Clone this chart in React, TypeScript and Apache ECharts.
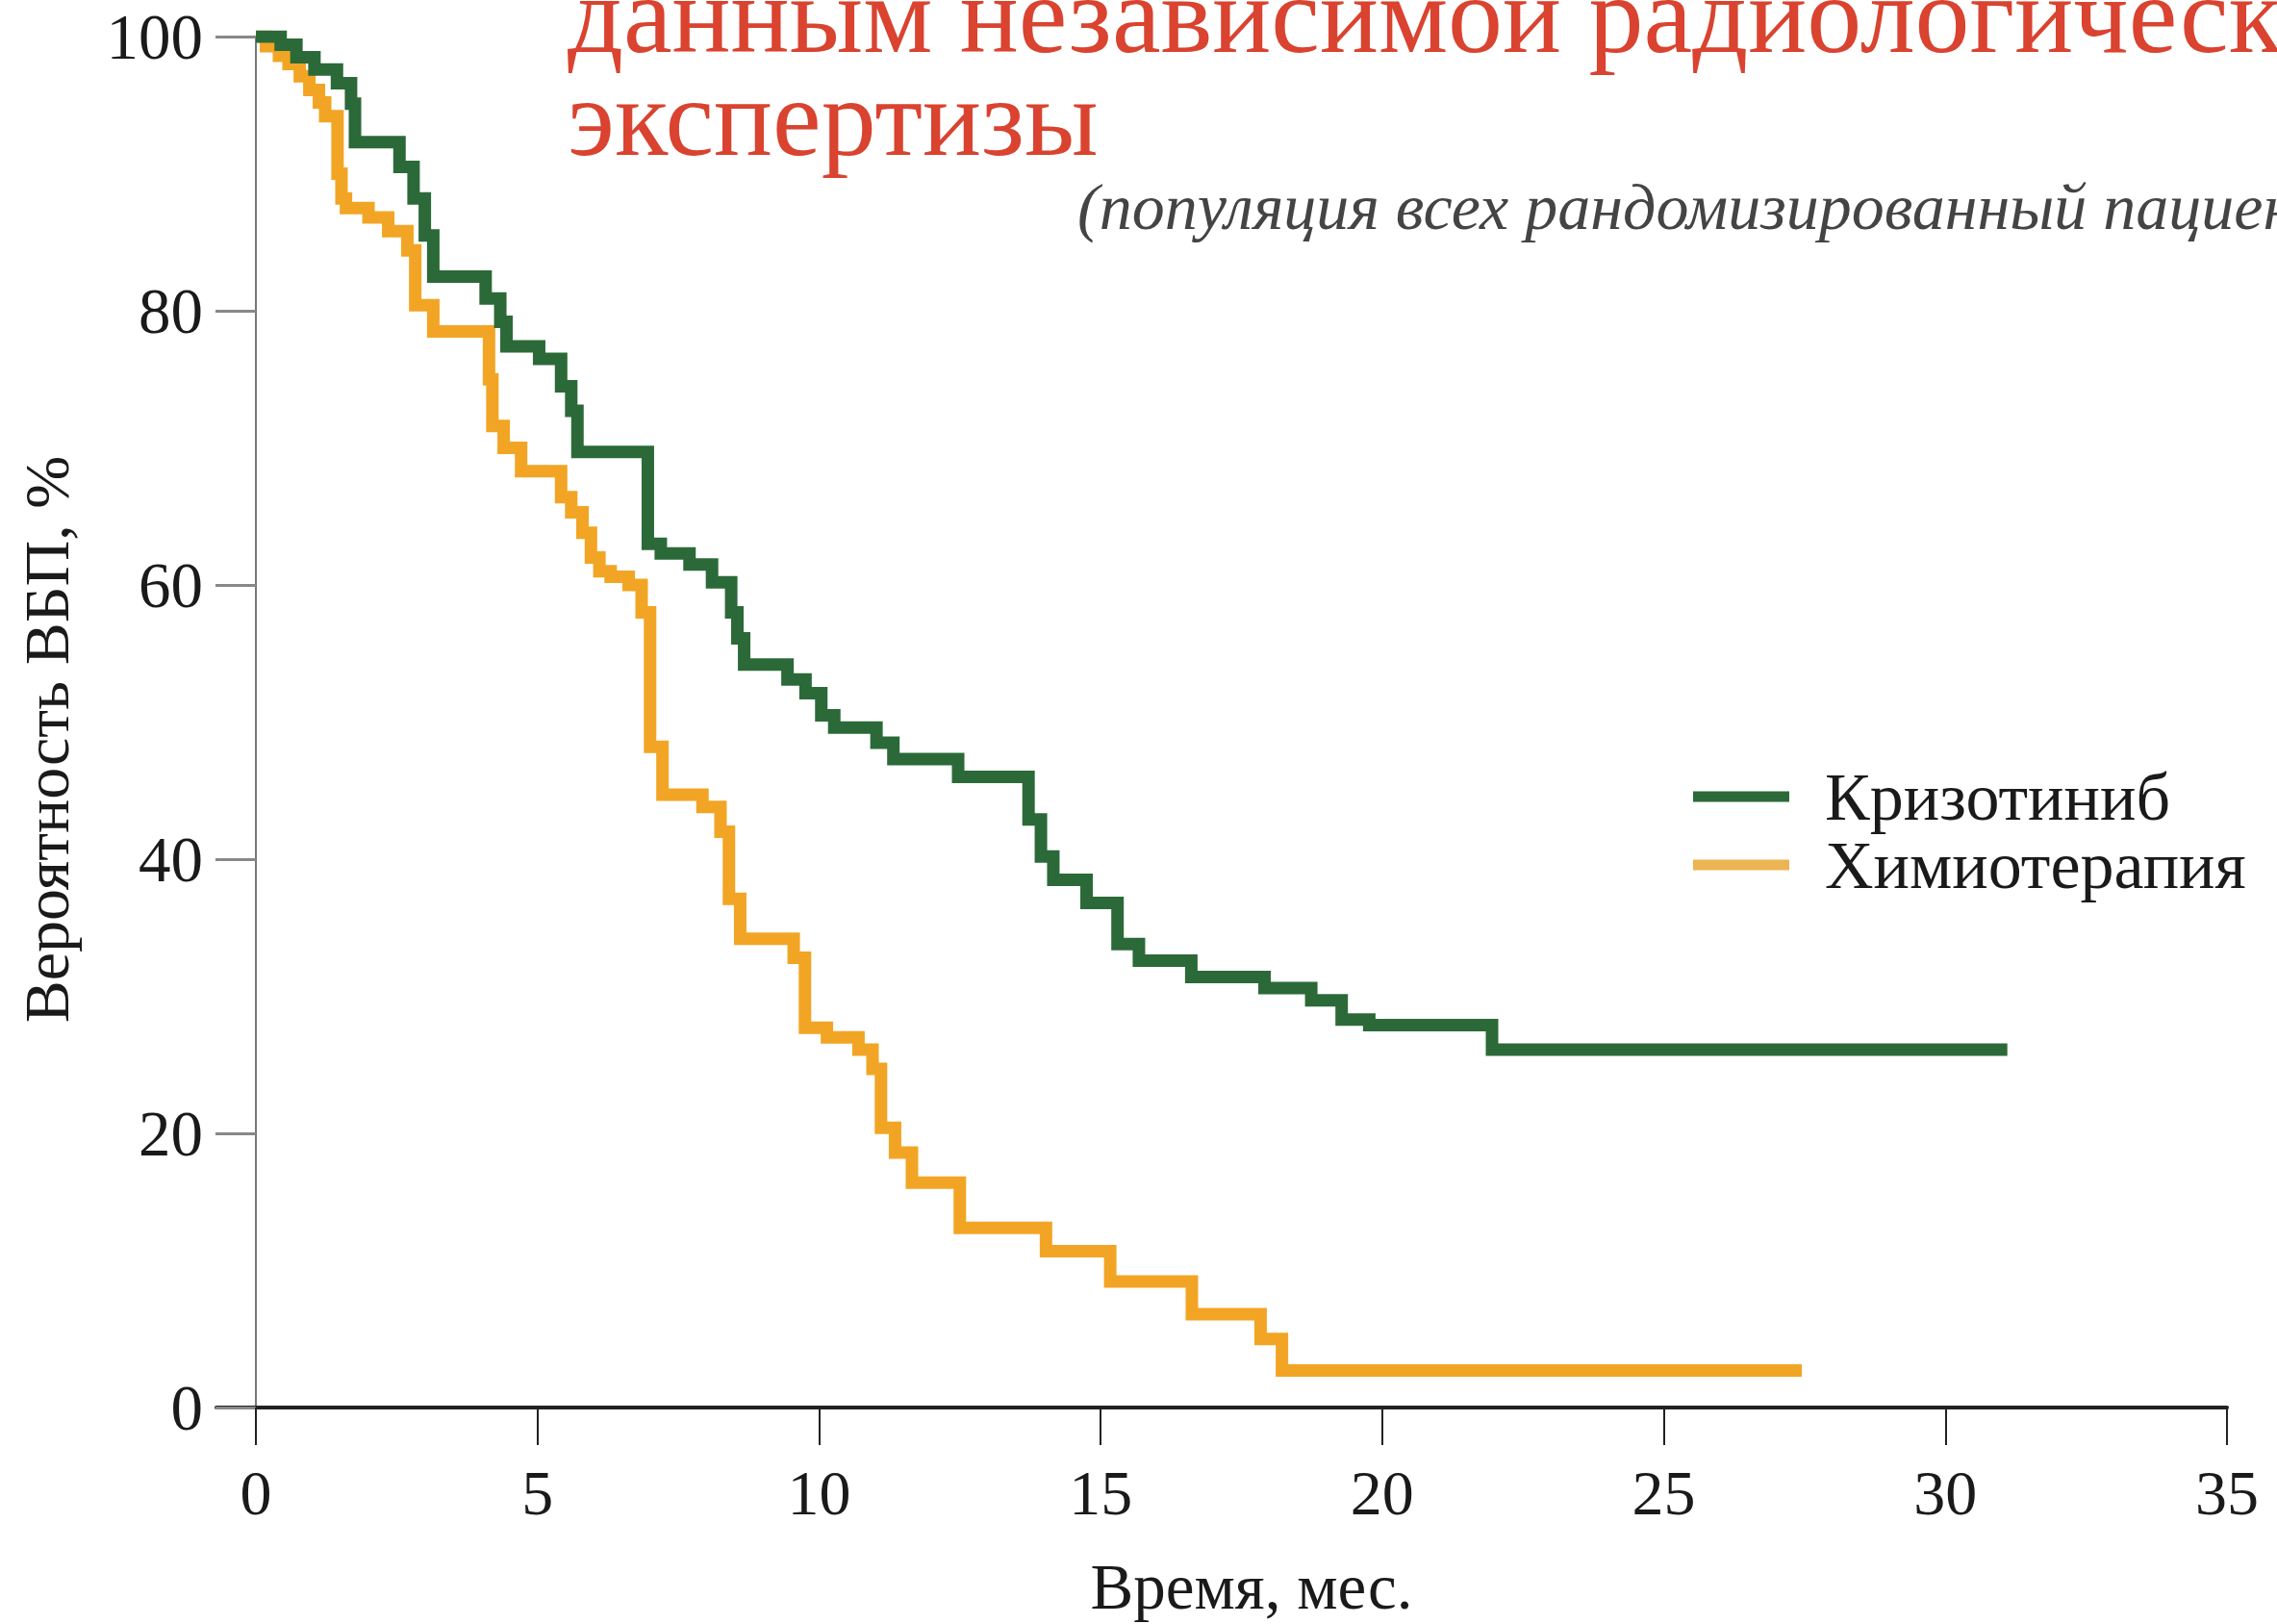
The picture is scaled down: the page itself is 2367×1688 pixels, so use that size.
import React, { useEffect, useRef } from "react";
import * as echarts from "echarts";

// Time (months) and PFS probability (%) for each arm — Kaplan–Meier steps
const crizotinibTime = [0, 0.44, 0.72, 1.04, 1.44, 1.69, 1.76, 2.55, 2.8, 3.0, 3.15, 4.08, 4.34, 4.45, 5.03, 5.42, 5.6, 5.71, 6.96, 7.19, 7.7, 8.1, 8.44, 8.55, 8.67, 9.44, 9.76, 10.04, 10.27, 11.02, 11.32, 12.47, 13.72, 13.94, 14.16, 14.75, 15.3, 15.68, 16.61, 17.91, 18.74, 19.28, 19.77, 21.95, 31.1];
const crizotinibPfs = [100, 99.4, 98.5, 97.6, 96.6, 95.1, 92.3, 90.5, 88.2, 85.5, 82.5, 80.9, 79.2, 77.4, 76.5, 74.5, 72.7, 69.7, 63.0, 62.3, 61.5, 60.2, 58.0, 56.1, 54.2, 53.1, 52.1, 50.5, 49.6, 48.5, 47.3, 46.0, 42.9, 40.2, 38.5, 36.8, 33.8, 32.6, 31.4, 30.6, 29.7, 28.3, 27.9, 26.1, 26.1];

const chemoTime = [0, 0.18, 0.41, 0.58, 0.78, 0.95, 1.12, 1.23, 1.45, 1.52, 1.6, 2.0, 2.35, 2.69, 2.83, 3.15, 4.14, 4.2, 4.4, 4.71, 5.42, 5.6, 5.8, 5.95, 6.1, 6.3, 6.62, 6.85, 7.0, 7.22, 7.93, 8.25, 8.4, 8.6, 9.55, 9.75, 10.14, 10.7, 10.95, 11.1, 11.35, 11.65, 12.5, 14.03, 15.17, 16.62, 17.84, 18.22, 27.45];
const chemoPfs = [100, 99.3, 98.6, 98.0, 97.1, 96.1, 95.2, 94.2, 90.0, 88.2, 87.5, 86.8, 85.8, 84.4, 80.4, 78.5, 75.0, 71.6, 70.0, 68.3, 66.4, 65.3, 63.8, 62.0, 61.0, 60.6, 60.0, 58.0, 48.2, 44.7, 43.8, 42.0, 37.1, 34.2, 32.8, 27.7, 27.0, 26.1, 24.7, 20.4, 18.6, 16.4, 13.1, 11.4, 9.2, 6.8, 5.0, 2.7, 2.7];

const seriesNames = ["Кризотиниб", "Химиотерапия"];
const xTicks = [0, 5, 10, 15, 20, 25, 30, 35];
const titleLines = ["данным независимой радиологической", "экспертизы"];
const subtitle = "(популяция всех рандомизированный пациентов)";
const yAxisName = "Вероятность ВБП, %";
const xAxisName = "Время, мес.";

const SERIF = "'Liberation Serif', 'Times New Roman', serif";

export default function App() {
  const ref = useRef<HTMLDivElement>(null);

  useEffect(() => {
    if (!ref.current) return;
    const chart = echarts.init(ref.current, undefined, { renderer: "svg" });
    const zip = (t: number[], s: number[]) => t.map((v, i) => [v, s[i]]);

    chart.setOption({
      animation: false,
      backgroundColor: "#ffffff",
      grid: { left: 225, right: 52, top: 38, bottom: 225, containLabel: false, outerBoundsMode: "none" },
      xAxis: {
        type: "value",
        min: -0.7,
        max: 35,
        name: xAxisName,
        nameLocation: "middle",
        nameGap: 152,
        nameTextStyle: { fontFamily: SERIF, fontSize: 67, color: "#1a1a1a", padding: [0, 0, 0, 62] },
        axisLine: { show: true, onZero: false, lineStyle: { color: "#222", width: 4 } },
        axisTick: { show: true, customValues: xTicks, length: 39, lineStyle: { color: "#222", width: 2 } },
        axisLabel: { customValues: xTicks, margin: 55, fontFamily: SERIF, fontSize: 66, color: "#1a1a1a" },
        splitLine: { show: false },
      },
      yAxis: {
        type: "value",
        min: 0,
        max: 100,
        interval: 20,
        name: yAxisName,
        nameLocation: "middle",
        nameRotate: 90,
        nameGap: 144,
        nameTextStyle: { fontFamily: SERIF, fontSize: 66, color: "#1a1a1a", padding: [0, 36, 0, 0] },
        axisLine: { show: true, onZero: true, lineStyle: { color: "#777", width: 2 } },
        axisTick: { show: true, length: 42, lineStyle: { color: "#888", width: 3 } },
        axisLabel: { margin: 14, fontFamily: SERIF, fontSize: 67, color: "#1a1a1a" },
        splitLine: { show: false },
      },
      legend: {
        orient: "vertical",
        left: 1755,
        top: 788,
        icon: "rect",
        itemWidth: 100,
        itemHeight: 11,
        itemGap: 1,
        textStyle: { fontFamily: SERIF, fontSize: 70, lineHeight: 60, color: "#1a1a1a", padding: [0, 0, 0, 32] },
        data: [
          { name: seriesNames[0], itemStyle: { color: "#2b6a38" } },
          { name: seriesNames[1], itemStyle: { color: "#edb453" } },
        ],
      },
      graphic: [
        {
          type: "text",
          left: 590,
          top: -42,
          style: {
            text: titleLines.join("\n"),
            fontFamily: SERIF,
            fontSize: 114,
            lineHeight: 107,
            fill: "#d9432f",
          },
        },
        {
          type: "text",
          left: 1120,
          top: 181,
          style: { text: subtitle, fontFamily: SERIF, fontStyle: "italic", fontSize: 68, fill: "#444" },
        },
      ],
      series: [
        {
          name: seriesNames[0],
          type: "line",
          step: "end",
          showSymbol: false,
          symbol: "none",
          color: "#2b6a38",
          lineStyle: { width: 13, color: "#2b6a38", join: "miter", cap: "butt" },
          data: zip(crizotinibTime, crizotinibPfs),
          z: 3,
        },
        {
          name: seriesNames[1],
          type: "line",
          step: "end",
          showSymbol: false,
          symbol: "none",
          color: "#f2a524",
          lineStyle: { width: 13, color: "#f2a524", join: "miter", cap: "butt" },
          data: zip(chemoTime, chemoPfs),
          z: 2,
        },
      ],
    });

    return () => chart.dispose();
  }, []);

  return (
    <div
      ref={ref}
      style={{ position: "fixed", left: 0, top: 0, width: 2367, height: 1688, background: "#fff" }}
    />
  );
}
